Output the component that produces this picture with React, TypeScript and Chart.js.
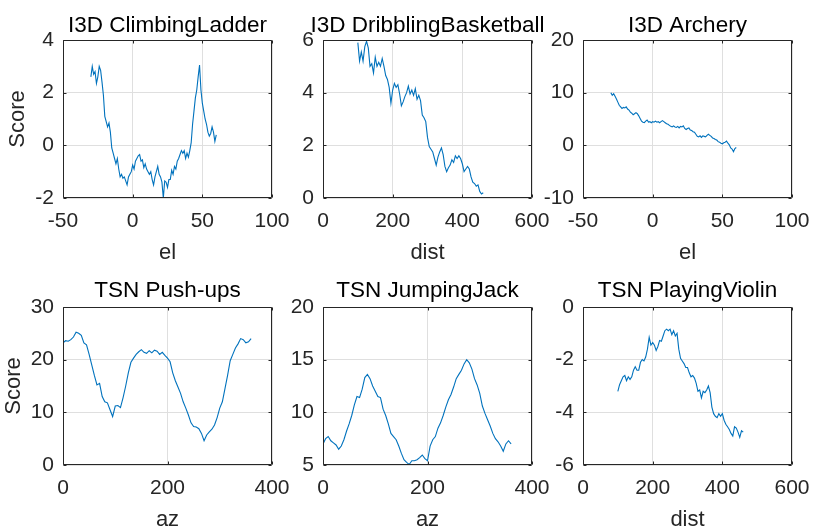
import React, { useEffect, useRef } from "react";
import { Chart, registerables } from "chart.js";
Chart.register(...registerables);

// ---------- data ----------
const climbEl = [-30,-29,-28,-27,-26,-25,-24,-23,-22,-21,-20,-19,-18,-17,-16,-15,-14,-13,-12,-11,-10,-9,-8,-7,-6,-5,-4,-3,-2,-1,0,1,2,3,4,5,6,7,8,9,10,11,12,13,14,15,16,17,18,19,20,21,22,23,24,25,26,27,28,29,30,31,32,33,34,35,36,37,38,39,40,41,42,43,44,45,46,47,48,49,50,51,52,53,54,55,56,57,58,59,60];
const climbScore = [2.6,3.0,2.7,2.8,2.35,2.6,3.0,2.85,2.4,1.9,1.1,0.9,0.7,0.85,0.5,-0.1,-0.3,-0.5,-0.7,-0.5,-0.9,-1.2,-1.1,-1.25,-1.2,-1.35,-1.5,-1.2,-1.1,-1.0,-0.75,-0.9,-0.6,-0.5,-0.4,-0.35,-0.6,-0.55,-0.85,-0.7,-0.9,-1.0,-1.1,-1.0,-1.3,-1.5,-1.2,-1.0,-0.8,-1.1,-1.2,-1.4,-2.0,-1.35,-1.4,-1.6,-1.3,-1.3,-0.95,-1.1,-0.8,-0.9,-0.6,-0.5,-0.35,-0.2,-0.3,-0.2,-0.5,-0.3,-0.45,-0.2,0.1,0.8,1.3,1.8,2.1,2.6,3.05,2.1,1.6,1.3,1.0,0.8,0.5,0.35,0.45,0.7,0.5,0.15,0.4];

const dribbleDist = [100,105,110,115,120,125,130,135,140,145,150,155,160,165,170,175,180,185,190,195,200,205,210,215,220,225,230,235,240,245,250,255,260,265,270,275,280,285,290,295,300,305,310,315,320,325,330,335,340,345,350,355,360,365,370,375,380,385,390,395,400,405,410,415,420,425,430,435,440,445,450,455,460];
const dribbleScore = [5.9,5.2,5.55,5.2,5.75,5.95,5.7,5.0,5.1,4.75,5.35,5.0,5.15,5.0,5.3,5.0,4.65,4.5,4.2,3.6,4.1,4.35,4.2,4.3,3.95,3.5,3.65,3.85,4.0,4.25,3.95,4.1,3.9,4.15,3.75,3.9,3.7,3.15,3.05,2.9,2.3,1.95,1.85,1.75,1.5,1.25,1.55,1.75,1.9,1.65,1.2,1.0,1.15,1.25,1.45,1.35,1.6,1.5,1.6,1.5,1.3,1.0,1.1,1.2,1.1,0.8,0.6,0.55,0.45,0.5,0.25,0.15,0.2];

const archeryEl = [-30,-29,-28,-27,-26,-25,-24,-23,-22,-21,-20,-19,-18,-17,-16,-15,-14,-13,-12,-11,-10,-9,-8,-7,-6,-5,-4,-3,-2,-1,0,1,2,3,4,5,6,7,8,9,10,11,12,13,14,15,16,17,18,19,20,21,22,23,24,25,26,27,28,29,30,31,32,33,34,35,36,37,38,39,40,41,42,43,44,45,46,47,48,49,50,51,52,53,54,55,56,57,58,59,60];
const archeryScore = [10.0,9.5,9.8,9.3,8.8,8.2,7.6,7.3,7.0,7.2,7.1,7.3,6.9,6.7,6.3,6.1,5.8,6.0,6.2,6.0,5.6,5.1,4.6,4.4,4.3,4.6,4.8,4.4,4.5,4.3,4.5,4.4,4.6,4.4,4.5,4.3,4.5,4.7,4.5,4.3,4.1,4.0,3.8,3.6,3.5,3.7,3.5,3.4,3.6,3.3,3.6,3.5,3.7,3.2,3.0,3.2,3.3,2.9,2.8,2.6,2.5,2.1,1.7,1.6,1.8,1.5,1.8,1.7,1.6,1.9,2.1,1.9,1.7,1.4,1.3,1.1,1.0,0.7,0.6,0.4,0.3,0.5,0.6,0.8,0.4,0.1,-0.5,-0.7,-1.2,-0.6,-0.4];

const pushAz = [0,5,10,15,20,25,30,35,40,45,50,55,60,65,70,75,80,85,90,95,100,105,110,115,120,125,130,135,140,145,150,155,160,165,170,175,180,185,190,195,200,205,210,215,220,225,230,235,240,245,250,255,260,265,270,275,280,285,290,295,300,305,310,315,320,325,330,335,340,345,350,355,360];
const pushScore = [23.2,23.6,23.5,23.8,24.3,25.2,25.0,24.6,23.2,22.8,21.0,19.0,17.0,15.2,15.5,13.0,12.0,11.8,10.5,9.2,11.2,11.3,10.9,12.8,15.0,17.5,19.5,20.3,21.0,21.5,21.9,21.4,21.2,21.7,21.3,21.8,21.6,21.0,21.4,20.8,20.3,19.6,17.5,16.0,14.8,13.6,12.0,10.8,9.5,8.0,7.3,7.2,6.9,6.0,4.6,5.7,6.3,6.8,7.6,9.0,10.8,12.0,14.5,17.0,19.8,21.0,22.2,23.0,24.0,23.8,23.2,23.4,24.0];

const jumpAz = [0,5,10,15,20,25,30,35,40,45,50,55,60,65,70,75,80,85,90,95,100,105,110,115,120,125,130,135,140,145,150,155,160,165,170,175,180,185,190,195,200,205,210,215,220,225,230,235,240,245,250,255,260,265,270,275,280,285,290,295,300,305,310,315,320,325,330,335,340,345,350,355,360];
const jumpScore = [7.0,7.5,7.7,7.3,7.1,6.9,6.5,6.8,7.4,8.2,8.9,9.7,10.7,11.5,11.4,12.2,13.3,13.6,13.2,12.5,12.0,11.5,11.4,10.3,9.7,8.9,8.0,7.7,7.4,6.8,6.1,5.5,5.25,5.05,5.4,5.4,5.5,5.7,5.95,5.6,5.4,6.8,7.4,7.7,8.5,9.0,9.7,10.5,11.2,11.7,12.4,13.2,13.6,14.0,14.6,15.0,14.7,14.1,13.2,12.6,11.8,10.6,9.9,9.3,8.7,8.0,7.5,7.2,6.8,6.3,7.0,7.3,7.0];

const violinDist = [100,105,110,115,120,125,130,135,140,145,150,155,160,165,170,175,180,185,190,195,200,205,210,215,220,225,230,235,240,245,250,255,260,265,270,275,280,285,290,295,300,305,310,315,320,325,330,335,340,345,350,355,360,365,370,375,380,385,390,395,400,405,410,415,420,425,430,435,440,445,450,455,460];
const violinScore = [-3.2,-2.95,-2.8,-2.65,-2.6,-2.8,-2.65,-2.75,-2.65,-2.4,-2.27,-2.4,-2.4,-2.1,-2.0,-2.05,-1.9,-1.6,-1.15,-1.45,-1.35,-1.45,-1.65,-1.5,-1.27,-1.3,-1.1,-0.9,-0.84,-0.9,-0.84,-1.05,-0.9,-1.1,-1.0,-1.6,-1.95,-2.05,-2.15,-2.3,-2.3,-2.5,-2.65,-2.6,-2.7,-2.9,-3.2,-3.15,-3.45,-3.2,-3.25,-3.15,-3.0,-3.25,-3.8,-4.05,-4.15,-4.2,-4.05,-4.15,-4.05,-4.3,-4.45,-4.55,-4.65,-4.8,-4.9,-4.55,-4.6,-4.75,-4.95,-4.7,-4.75];

// ---------- layout ----------
const FONT = "'Liberation Sans', Arial, Helvetica, sans-serif";
const AX = "#262626";
const LINE = "#0072BD";
const GRID = "#dfdfdf";
const Y_AXIS_W = 63;
const TITLE_H = 40;
const BOX_W = 209;
const BOX_H = 158;
const X_AXIS_H = 75;
const RIGHT_PAD = 25;
const CANVAS_W = Y_AXIS_W + BOX_W + RIGHT_PAD;
const CANVAS_H = TITLE_H + BOX_H + X_AXIS_H;

type PanelDef = {
  title: string;
  xLabel: string;
  yLabel?: string;
  xs: number[];
  ys: number[];
  xMin: number; xMax: number; xStep: number;
  yMin: number; yMax: number; yStep: number;
  left: number; top: number;
  titleGap: number;
  yTitlePad: number;
};

const panels: PanelDef[] = [
  { title: "I3D ClimbingLadder", xLabel: "el", yLabel: "Score", xs: climbEl, ys: climbScore, xMin: -50, xMax: 100, xStep: 50, yMin: -2, yMax: 4, yStep: 2, left: 0, top: 0, titleGap: 8, yTitlePad: 7 },
  { title: "I3D DribblingBasketball", xLabel: "dist", xs: dribbleDist, ys: dribbleScore, xMin: 0, xMax: 600, xStep: 200, yMin: 0, yMax: 6, yStep: 2, left: 260, top: 0, titleGap: 8, yTitlePad: 7 },
  { title: "I3D Archery", xLabel: "el", xs: archeryEl, ys: archeryScore, xMin: -50, xMax: 100, xStep: 50, yMin: -10, yMax: 20, yStep: 10, left: 520, top: 0, titleGap: 8, yTitlePad: 7 },
  { title: "TSN Push-ups", xLabel: "az", yLabel: "Score", xs: pushAz, ys: pushScore, xMin: 0, xMax: 400, xStep: 200, yMin: 0, yMax: 30, yStep: 10, left: 0, top: 267, titleGap: 10, yTitlePad: 3 },
  { title: "TSN JumpingJack", xLabel: "az", xs: jumpAz, ys: jumpScore, xMin: 0, xMax: 400, xStep: 200, yMin: 5, yMax: 20, yStep: 5, left: 260, top: 267, titleGap: 10, yTitlePad: 3 },
  { title: "TSN PlayingViolin", xLabel: "dist", xs: violinDist, ys: violinScore, xMin: 0, xMax: 600, xStep: 200, yMin: -6, yMax: 0, yStep: 2, left: 520, top: 267, titleGap: 10, yTitlePad: 3 },
];

const boxPlugin = {
  id: "matlabBox",
  afterDraw(chart: any, _args: any, opts: any) {
    const ctx = chart.ctx;
    const a = chart.chartArea;
    const sx = chart.scales.x;
    const sy = chart.scales.y;
    const L = Math.round(a.left) + 0.5;
    const R = Math.round(a.right) - 0.5;
    const T = Math.round(a.top) + 0.5;
    const B = Math.round(a.bottom) - 0.5;
    ctx.save();
    ctx.strokeStyle = AX;
    ctx.lineWidth = 1;
    ctx.beginPath();
    ctx.moveTo(L, T); ctx.lineTo(R, T); ctx.lineTo(R, B); ctx.lineTo(L, B); ctx.closePath();
    const tl = 3;
    sx.ticks.forEach((t: any) => {
      const px = Math.round(sx.getPixelForValue(t.value)) + 0.5;
      ctx.moveTo(px, B); ctx.lineTo(px, B - tl);
      ctx.moveTo(px, T); ctx.lineTo(px, T + tl);
    });
    sy.ticks.forEach((t: any) => {
      const py = Math.round(sy.getPixelForValue(t.value)) + 0.5;
      ctx.moveTo(L, py); ctx.lineTo(L + tl, py);
      ctx.moveTo(R, py); ctx.lineTo(R - tl, py);
    });
    ctx.stroke();
    // title
    const text = opts && opts.text ? opts.text : "";
    ctx.fillStyle = "#000";
    ctx.font = `22.5px ${FONT}`;
    ctx.textAlign = "center";
    ctx.textBaseline = "alphabetic";
    ctx.fillText(text, (a.left + a.right) / 2, a.top - (opts ? opts.gap : 8));
    ctx.restore();
  },
};

function Panel({ p }: { p: PanelDef }) {
  const ref = useRef<HTMLCanvasElement | null>(null);
  useEffect(() => {
    if (!ref.current) return;
    const points = p.xs.map((x, i) => ({ x, y: p.ys[i] }));
    const chart = new Chart(ref.current, {
      type: "line",
      data: {
        datasets: [
          {
            data: points,
            borderColor: LINE,
            borderWidth: 1.1,
            pointRadius: 0,
            tension: 0,
            fill: false,
          },
        ],
      },
      options: {
        animation: false,
        responsive: false,
        devicePixelRatio: 1,
        layout: { padding: { left: 0, right: RIGHT_PAD, top: TITLE_H, bottom: 0 } },
        plugins: {
          legend: { display: false },
          tooltip: { enabled: false },
          title: { display: false },
          matlabBox: { text: p.title, gap: p.titleGap },
        },
        scales: {
          x: {
            type: "linear",
            min: p.xMin,
            max: p.xMax,
            afterFit: (s: any) => { s.height = X_AXIS_H; s.paddingLeft = 0; s.paddingRight = 0; },
            ticks: {
              stepSize: p.xStep,
              color: AX,
              font: { family: FONT, size: 21, lineHeight: 1 },
              padding: 13,
              maxRotation: 0,
              autoSkip: false,
            },
            grid: { color: GRID, drawTicks: false, lineWidth: 1 },
            border: { display: false },
            title: {
              display: true,
              text: p.xLabel,
              color: AX,
              font: { family: FONT, size: 22, lineHeight: 1 },
              padding: { top: 0, bottom: 9 },
            },
          },
          y: {
            type: "linear",
            min: p.yMin,
            max: p.yMax,
            afterFit: (s: any) => { s.width = Y_AXIS_W; s.paddingTop = 0; s.paddingBottom = 0; },
            ticks: {
              stepSize: p.yStep,
              color: AX,
              font: { family: FONT, size: 21, lineHeight: 1 },
              padding: 9,
              autoSkip: false,
            },
            grid: { color: GRID, drawTicks: false, lineWidth: 1 },
            border: { display: false },
            title: {
              display: !!p.yLabel,
              text: p.yLabel || "",
              color: AX,
              font: { family: FONT, size: 22, lineHeight: 1 },
              padding: { top: p.yTitlePad, bottom: 0 },
            },
          },
        },
      },
      plugins: [boxPlugin],
    } as any);
    return () => chart.destroy();
  }, [p]);
  return (
    <canvas
      ref={ref}
      width={CANVAS_W}
      height={CANVAS_H}
      style={{ position: "absolute", left: p.left, top: p.top, width: CANVAS_W, height: CANVAS_H }}
    />
  );
}

export default function App() {
  return (
    <div
      style={{
        position: "fixed",
        left: 0,
        top: 0,
        width: 830,
        height: 529,
        overflow: "hidden",
        background: "#fff",
      }}
    >
      {panels.map((p, i) => (
        <Panel key={i} p={p} />
      ))}
    </div>
  );
}
